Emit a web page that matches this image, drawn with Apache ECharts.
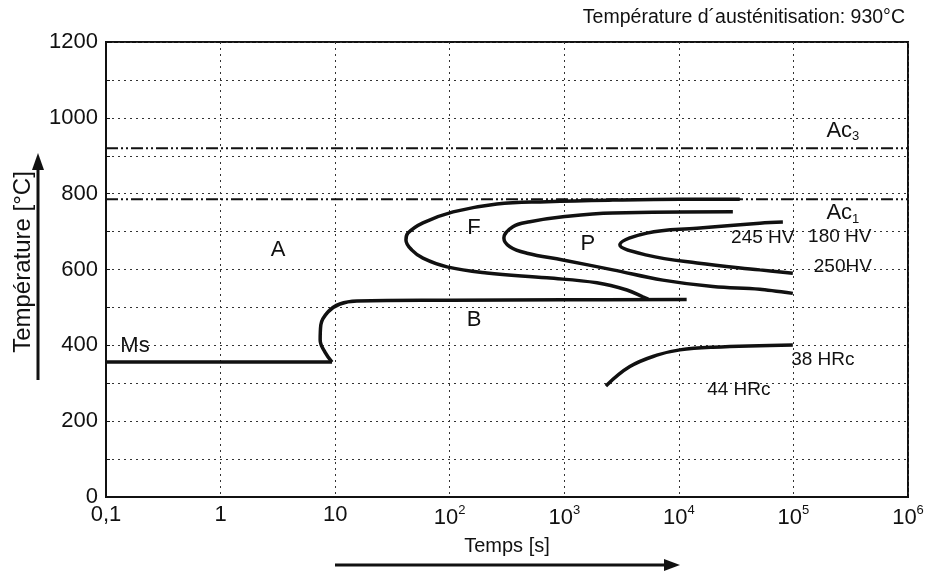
<!DOCTYPE html>
<html lang="fr">
<head>
<meta charset="UTF-8">
<title>Diagramme TRC</title>
<script src="https://cdn.jsdelivr.net/npm/echarts@6/dist/echarts.min.js"></script>
<style>
    html, body { margin: 0; padding: 0; background: #fff; }
    #chart { width: 928px; height: 573px; }
</style>
</head>
<body>
<div id="chart"></div>

<script>
    // temps [s], température [°C]
    const ac3 = [[0.1, 920], [1e6, 920]];
    const ac1 = [[0.1, 785], [1e6, 785]];
    const msLine = [[0.1, 356], [9.4, 356]];
    const bainite = [[9.4, 356], [8.15, 382], [7.4, 414], [7.5, 454], [8.65, 488], [11, 509], [15.5, 517],
        [100, 519], [1000, 520], [11700, 521]];
    const ferrite = [[34000, 785], [10200, 785], [2655, 783], [705, 779], [258, 773], [107, 752], [58.4, 723],
        [43.2, 696], [41.5, 678], [46.8, 651], [58.4, 630], [94.6, 607], [211, 591], [705, 578], [1926, 565],
        [3520, 546], [4850, 528], [5400, 522]];
    const pearlite = [[29600, 752], [2655, 749], [972, 739], [501, 726], [356, 713], [297, 683], [335, 660],
        [472, 643], [972, 625], [2655, 599], [7250, 572], [19800, 555], [50900, 548], [98800, 537]];
    const inner = [[80900, 725], [50900, 722], [14400, 709], [5260, 696], [3055, 665], [5260, 638],
        [14400, 617], [50900, 599], [98800, 590]];
    const martensite = [[2307, 293], [3735, 344], [6430, 374], [10200, 388], [19800, 395], [98800, 401]];

    const regionLabels = [
        { name: 'A', value: [3.17, 651] },
        { name: 'F', value: [163, 709] },
        { name: 'P', value: [1607, 667] },
        { name: 'B', value: [163, 467] },
        { name: 'Ms', value: [0.179, 398] }
    ];
    const hardnessLabels = [
        { name: '245 HV', value: [54000, 683] },
        { name: '180 HV', value: [254000, 686] },
        { name: '250HV', value: [270000, 606] },
        { name: '38 HRc', value: [180700, 361] },
        { name: '44 HRc', value: [33400, 282] }
    ];
    const acLabels = [
        { name: '{a|Ac}{s|3}', value: [270000, 966] },
        { name: '{a|Ac}{s|1}', value: [270000, 749] }
    ];

    const chart = echarts.init(document.getElementById('chart'));

    const curve = (name, data, smooth) => ({
        name: name,
        type: 'line',
        data: data,
        smooth: smooth,
        symbol: 'none',
        lineStyle: { color: '#111', width: 3.5 },
        z: 5
    });
    const acLine = (name, data) => ({
        name: name,
        type: 'line',
        data: data,
        symbol: 'none',
        lineStyle: { color: '#111', width: 2, type: [12, 3, 2, 3, 2, 3] },
        z: 4
    });
    const textSeries = (data, size, rich) => ({
        type: 'scatter',
        data: data,
        symbolSize: 0,
        silent: true,
        z: 6,
        itemStyle: { opacity: 1, color: '#111' },
        label: {
            show: true,
            position: 'inside',
            formatter: p => p.name,
            color: '#111',
            opacity: 1,
            textBorderWidth: 0,
            textBorderColor: 'transparent',
            fontSize: size,
            fontFamily: 'Liberation Sans',
            rich: rich
        }
    });

    const option = {
        animation: false,
        textStyle: { fontFamily: 'Liberation Sans' },
        grid: {
            left: 106, right: 20, top: 42, bottom: 76,
            show: true, borderColor: '#111', borderWidth: 2
        },
        xAxis: {
            type: 'log',
            logBase: 10,
            min: 0.1,
            max: 1e6,
            splitNumber: 7,
            axisLine: { lineStyle: { color: '#111', width: 2 } },
            axisTick: { show: false },
            splitLine: { show: true, lineStyle: { color: '#333', width: 1, type: [2, 4] } },
            axisLabel: {
                color: '#111',
                fontSize: 22,
                margin: 7,
                formatter: function (v) {
                    const e = Math.round(Math.log10(v));
                    if (e === -1) return '{b|0,1}';
                    if (e === 0) return '{b|1}';
                    if (e === 1) return '{b|10}';
                    return '{b|10}{s|' + e + '}';
                },
                rich: {
                    b: { fontSize: 22, color: '#111' },
                    s: { fontSize: 13, color: '#111', padding: [0, 0, 15, 0] }
                }
            }
        },
        yAxis: {
            type: 'value',
            min: 0,
            max: 1200,
            interval: 100,
            axisLine: { show: true, lineStyle: { color: '#111', width: 2 } },
            axisTick: { show: true, inside: true, length: 4, lineStyle: { color: '#111' } },
            splitLine: { show: true, lineStyle: { color: '#333', width: 1, type: [2, 4] } },
            axisLabel: {
                color: '#111',
                fontSize: 22,
                margin: 8,
                formatter: v => (v % 200 === 0 ? String(v) : '')
            }
        },
        series: [
            acLine('Ac3', ac3),
            acLine('Ac1', ac1),
            curve('Ms', msLine, false),
            curve('Bainite', bainite, 0.4),
            curve('Ferrite', ferrite, 0.4),
            curve('Perlite', pearlite, 0.4),
            curve('Perlite fin', inner, 0.4),
            curve('Martensite', martensite, 0.4),
            textSeries(regionLabels, 22),
            textSeries(hardnessLabels, 19),
            textSeries(acLabels, 22, {
                a: { fontSize: 22, color: '#111' },
                s: { fontSize: 13, color: '#111', padding: [12, 0, 0, 0] }
            })
        ],
        graphic: [
            {
                type: 'text', right: 23, top: 8,
                style: { text: 'Température d´austénitisation: 930°C', fontSize: 19.5, fill: '#111', fontFamily: 'Liberation Sans' }
            },
            {
                type: 'text', x: 507, y: 546,
                style: { text: 'Temps [s]', fontSize: 20, fill: '#111', fontFamily: 'Liberation Sans', align: 'center', verticalAlign: 'middle' }
            },
            {
                type: 'text', x: 23, y: 262, rotation: Math.PI / 2,
                style: { text: 'Température [°C]', fontSize: 24, fill: '#111', fontFamily: 'Liberation Sans', align: 'center', verticalAlign: 'middle' }
            },
            { type: 'line', shape: { x1: 335, y1: 565, x2: 666, y2: 565 }, style: { stroke: '#111', lineWidth: 3 } },
            { type: 'polygon', shape: { points: [[680, 565], [664, 559], [664, 571]] }, style: { fill: '#111' } },
            { type: 'line', shape: { x1: 38, y1: 380, x2: 38, y2: 168 }, style: { stroke: '#111', lineWidth: 3 } },
            { type: 'polygon', shape: { points: [[38, 153], [32, 170], [44, 170]] }, style: { fill: '#111' } }
        ]
    };
    chart.setOption(option);
</script>
</body>
</html>
